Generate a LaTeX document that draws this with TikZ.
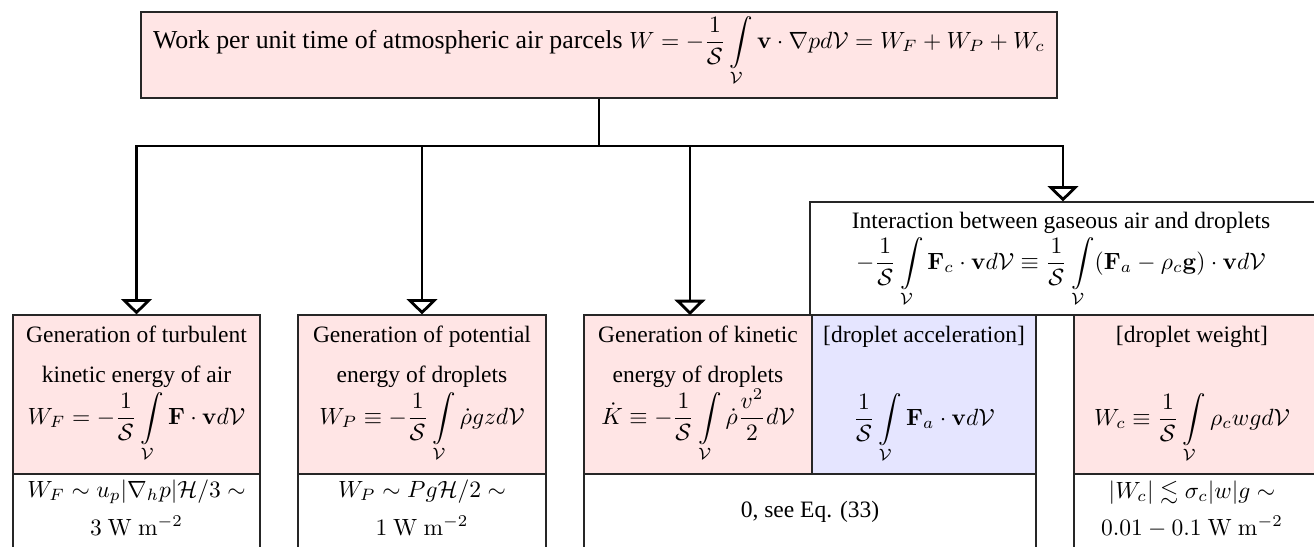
\RequirePackage{fix-cm}
\documentclass[tikz,border=0pt]{standalone}
\usepackage{amsmath,amssymb}
\usepackage[no-math]{fontspec}
\setmainfont{Liberation Serif}
\usetikzlibrary{arrows.meta,fit}
\begin{document}
\begin{tikzpicture}[x=0.4255pt,y=-0.4255pt,
  box/.style={draw=black!85,line width=0.5pt,inner sep=0pt},
  pinkbox/.style={box,fill=red!10},
  bluebox/.style={box,fill=blue!10},
  whitebox/.style={box,fill=white},
  txt/.style={anchor=base,inner sep=0pt,font=\fontsize{10}{12}\selectfont},
  trunk/.style={line width=1.2pt},
  conn/.style={line width=1.2pt,-{Triangle[open,width=13pt,length=6.5pt,line width=1.2pt]}}]
\useasboundingbox (0,0) rectangle (1314,546);
\clip (0,0) rectangle (1314,546);
% top box
\node[pinkbox,fit={(141,12)(1057,98)}] (top) {};
\node[txt,font=\fontsize{11}{13}\selectfont] (toptxt) at (599,48) {Work per unit time of atmospheric air parcels {\fontsize{10}{12}\selectfont$W=-\dfrac{1}{\mathcal S}\displaystyle\int\limits_{\mathcal V}\mathbf v\cdot\nabla p d\mathcal V=W_F+W_P+W_c$}};
% interaction box
\node[whitebox,fit={(810,202)(1316,315)}] (inter) {};
\node[txt] (intert) at (1061,228) {Interaction between gaseous air and droplets};
\node[txt] (interf) at (1061,269) {$\displaystyle -\frac{1}{\mathcal S}\int\limits_{\mathcal V}\mathbf F_c\cdot\mathbf v d\mathcal V\equiv\frac{1}{\mathcal S}\int\limits_{\mathcal V}(\mathbf F_a-\rho_c\mathbf g)\cdot\mathbf v d\mathcal V$};
% box 1
\node[pinkbox,fit={(13,315)(260,474)}] (gt) {};
\node[whitebox,fit={(13,474)(260,560)}] (gtb) {};
\node[txt] (gt1) at (136.5,342) {Generation of turbulent};
\node[txt] (gt2) at (136.5,382) {kinetic energy of air};
\node[txt] (gt3) at (136.5,424) {$\displaystyle W_F=-\frac{1}{\mathcal S}\int\limits_{\mathcal V}\mathbf F\cdot\mathbf v d\mathcal V$};
\node[txt] (gtb1) at (136.5,497) {$W_F\sim u_p|\nabla_h p|\mathcal H/3\sim$};
\node[txt] (gtb2) at (136.5,535) {$3\ \mathrm{W\ m^{-2}}$};
% box 2
\node[pinkbox,fit={(298,315)(546,474)}] (gp) {};
\node[whitebox,fit={(298,474)(546,560)}] (gpb) {};
\node[txt] (gp1) at (422,342) {Generation of potential};
\node[txt] (gp2) at (422,382) {energy of droplets};
\node[txt] (gp3) at (422,424) {$\displaystyle W_P\equiv-\frac{1}{\mathcal S}\int\limits_{\mathcal V}\dot\rho g z d\mathcal V$};
\node[txt] (gpb1) at (422,497) {$W_P\sim Pg\mathcal H/2\sim$};
\node[txt] (gpb2) at (422,535) {$1\ \mathrm{W\ m^{-2}}$};
% box 3
\node[pinkbox,fit={(584,315)(812,474)}] (gk) {};
\node[bluebox,fit={(812,315)(1036,474)}] (ga) {};
\node[whitebox,fit={(584,474)(1036,560)}] (gkb) {};
\node[txt] (gk1) at (698,342) {Generation of kinetic};
\node[txt] (gk2) at (698,382) {energy of droplets};
\node[txt] (gk3) at (698,424) {$\displaystyle \dot K\equiv-\frac{1}{\mathcal S}\int\limits_{\mathcal V}\dot\rho\frac{v^2}{2}d\mathcal V$};
\node[txt] (ga1) at (924,342) {[droplet acceleration]};
\node[txt] (ga2) at (924,425) {$\displaystyle \frac{1}{\mathcal S}\int\limits_{\mathcal V}\mathbf F_a\cdot\mathbf v d\mathcal V$};
\node[txt] (gkb1) at (810,517) {0, see Eq. (33)};
% box 4
\node[pinkbox,fit={(1074,315)(1316,474)}] (gw) {};
\node[whitebox,fit={(1074,474)(1316,560)}] (gwb) {};
\node[txt] (gw1) at (1192,342) {[droplet weight]};
\node[txt] (gw2) at (1192,425) {$\displaystyle W_c\equiv\frac{1}{\mathcal S}\int\limits_{\mathcal V}\rho_c w g d\mathcal V$};
\node[txt] (gwb1) at (1192,498) {$|W_c|\lesssim\sigma_c|w|g\sim$};
\node[txt] (gwb2) at (1192,535) {$0.01-0.1\ \mathrm{W\ m^{-2}}$};
% connectors
\coordinate (bus) at (599,146);
\coordinate (a3) at (690,315);
\draw[trunk] (top.south) -- (bus);
\draw[conn] (bus) -| (gt.north);
\draw[conn] (bus) -| (gp.north);
\draw[conn] (bus) -| (a3);
\draw[conn] (bus) -| (inter.north);
\end{tikzpicture}
\end{document}
